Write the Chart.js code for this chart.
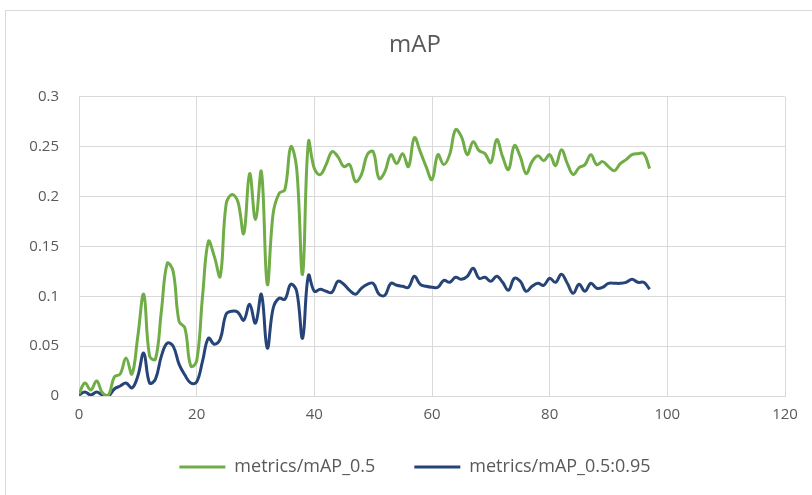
<!DOCTYPE html>
<html>
<head>
<meta charset="utf-8">
<script src="https://cdn.jsdelivr.net/npm/chart.js@4.4.0/dist/chart.umd.min.js"></script>
<style>
  html, body { margin: 0; padding: 0; background: #fff; }
  #wrap { position: relative; width: 812px; height: 495px; overflow: hidden; }
  #frame { position: absolute; left: 5px; top: 10px; width: 830px; height: 520px; border: 1px solid #d9d9d9; box-sizing: border-box; }
  #cv { position: absolute; left: 0; top: 0; }
</style>
</head>
<body>
<div id="wrap">
  <div id="frame"></div>
  <canvas id="cv" width="812" height="495"></canvas>
</div>
<script>
const chartTitle = 'mAP';
const seriesNames = ['metrics/mAP_0.5', 'metrics/mAP_0.5:0.95'];
const epochs = [0,1,2,3,4,5,6,7,8,9,10,11,12,13,14,15,16,17,18,19,20,21,22,23,24,25,26,27,28,29,30,31,32,33,34,35,36,37,38,39,40,41,42,43,44,45,46,47,48,49,50,51,52,53,54,55,56,57,58,59,60,61,62,63,64,65,66,67,68,69,70,71,72,73,74,75,76,77,78,79,80,81,82,83,84,85,86,87,88,89,90,91,92,93,94,95,96,97];
const mAP50 = [0.002,0.013,0.006,0.015,0.003,0.001,0.019,0.022,0.038,0.022,0.060,0.102,0.040,0.037,0.085,0.133,0.125,0.075,0.068,0.030,0.035,0.100,0.155,0.140,0.120,0.192,0.202,0.195,0.163,0.223,0.177,0.225,0.112,0.183,0.203,0.207,0.250,0.228,0.122,0.255,0.228,0.222,0.232,0.245,0.240,0.230,0.232,0.215,0.222,0.242,0.245,0.218,0.225,0.242,0.233,0.243,0.230,0.259,0.245,0.230,0.217,0.242,0.232,0.242,0.267,0.260,0.242,0.255,0.246,0.243,0.234,0.257,0.240,0.227,0.251,0.240,0.223,0.235,0.241,0.236,0.242,0.231,0.247,0.233,0.222,0.229,0.232,0.242,0.232,0.235,0.230,0.226,0.233,0.237,0.242,0.243,0.243,0.228];
const mAP5095 = [0.001,0.004,0.001,0.004,0.001,0.000,0.007,0.010,0.013,0.008,0.020,0.043,0.013,0.017,0.040,0.053,0.050,0.032,0.021,0.013,0.014,0.035,0.058,0.052,0.057,0.082,0.085,0.084,0.076,0.092,0.073,0.102,0.048,0.088,0.098,0.097,0.112,0.105,0.058,0.121,0.105,0.107,0.105,0.104,0.115,0.112,0.106,0.102,0.108,0.112,0.113,0.102,0.101,0.113,0.111,0.110,0.109,0.120,0.112,0.110,0.109,0.109,0.116,0.114,0.119,0.117,0.120,0.128,0.118,0.119,0.115,0.120,0.114,0.106,0.118,0.115,0.105,0.110,0.113,0.111,0.118,0.114,0.122,0.113,0.103,0.112,0.105,0.113,0.108,0.109,0.113,0.113,0.113,0.114,0.117,0.114,0.114,0.107];
const yTickLabels = ['0','0.05','0.1','0.15','0.2','0.25','0.3'];
const xTickLabels = ['0','20','40','60','80','100','120'];

const GREEN = '#70ad47';
const BLUE = '#264478';
const TXT = '#595959';
const GRID = '#d9d9d9';
const FONT = "'Open Sans', 'Noto Sans', sans-serif";

function pts(ys) { return epochs.map((e, i) => ({ x: e, y: ys[i] })); }

new Chart(document.getElementById('cv'), {
  type: 'line',
  data: {
    datasets: [
      { label: seriesNames[0], data: pts(mAP50), borderColor: GREEN, backgroundColor: GREEN, borderWidth: 3, pointRadius: 0, tension: 0.4, fill: false },
      { label: seriesNames[1], data: pts(mAP5095), borderColor: BLUE, backgroundColor: BLUE, borderWidth: 3, pointRadius: 0, tension: 0.4, fill: false }
    ]
  },
  options: {
    responsive: false,
    animation: false,
    layout: { padding: { left: 0, right: -18, top: 0, bottom: 9 } },
    scales: {
      x: {
        type: 'linear', min: 0, max: 120,
        ticks: { stepSize: 20, color: TXT, font: { family: FONT, size: 15 }, padding: 10,
                 callback: (v, i) => xTickLabels[i] },
        grid: { color: GRID, lineWidth: 1, drawTicks: false },
        border: { color: GRID, width: 1 },
        afterFit: s => { s.height = 23; }
      },
      y: {
        min: 0, max: 0.3,
        ticks: { stepSize: 0.05, color: TXT, font: { family: FONT, size: 15 }, padding: 20,
                 callback: (v, i) => yTickLabels[i] },
        grid: { color: GRID, lineWidth: 1, drawTicks: false },
        border: { display: false },
        afterFit: s => { s.width = 79; }
      },
      yRight: {
        position: 'right', min: 0, max: 1,
        ticks: { display: false },
        grid: { display: false, drawTicks: false },
        border: { display: false },
        afterFit: s => { s.width = 45; }
      }
    },
    plugins: {
      title: { display: true, text: chartTitle, color: TXT, font: { family: FONT, size: 24, weight: 'normal' }, padding: { top: 31, bottom: 37 } },
      legend: {
        position: 'bottom',
        labels: {
          boxWidth: 46, boxHeight: 3, color: TXT, font: { family: FONT, size: 18 }, padding: 39,
          generateLabels: chart => chart.data.datasets.map((d, i) => ({
            text: d.label, fillStyle: d.borderColor, strokeStyle: d.borderColor, lineWidth: 0,
            fontColor: TXT, hidden: false, datasetIndex: i
          }))
        }
      },
      tooltip: { enabled: false }
    }
  }
});
</script>
</body>
</html>
